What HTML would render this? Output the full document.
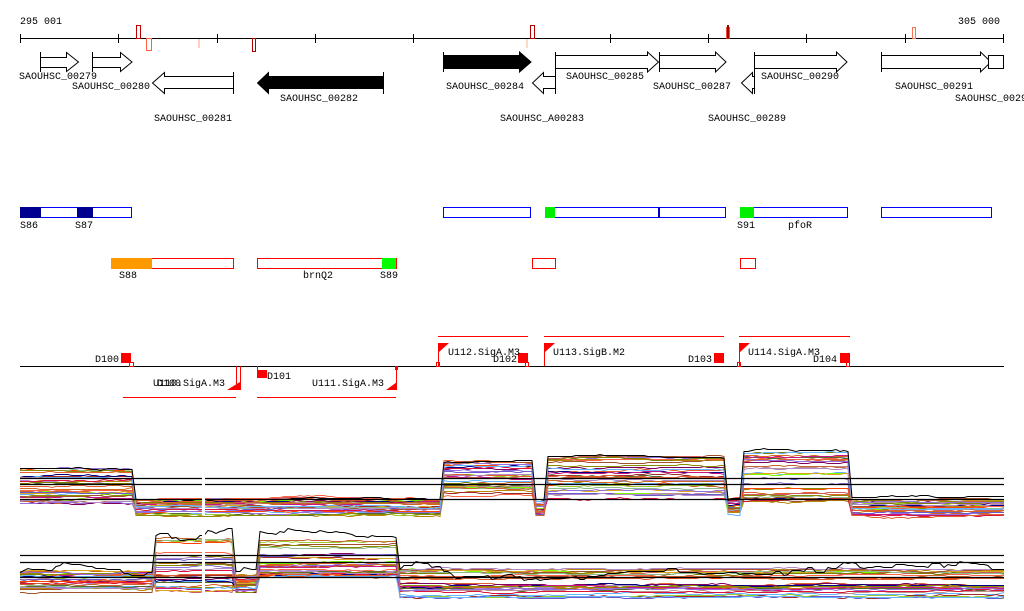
<!DOCTYPE html>
<html><head><meta charset="utf-8"><style>
html,body{margin:0;padding:0;background:#fff;width:1024px;height:611px;overflow:hidden}
svg{display:block}
text{font-family:"Liberation Mono","DejaVu Sans Mono",monospace;font-size:10px;fill:#000}
</style></head><body>
<svg id="s" width="1024" height="611" xmlns="http://www.w3.org/2000/svg">
<text x="20" y="24">295 001</text>
<text x="958" y="24">305 000</text>
<line x1="20" y1="38.5" x2="1004" y2="38.5" stroke="#000"/>
<g stroke="#000">
<line x1="20.5" y1="34" x2="20.5" y2="43"/><line x1="118.5" y1="34" x2="118.5" y2="43"/><line x1="217.5" y1="34" x2="217.5" y2="43"/><line x1="315.5" y1="34" x2="315.5" y2="43"/><line x1="413.5" y1="34" x2="413.5" y2="43"/><line x1="610.5" y1="34" x2="610.5" y2="43"/><line x1="708.5" y1="34" x2="708.5" y2="43"/><line x1="806.5" y1="34" x2="806.5" y2="43"/><line x1="905.5" y1="34" x2="905.5" y2="43"/><line x1="1003.5" y1="34" x2="1003.5" y2="43"/>
</g>
<rect x="136.5" y="25.5" width="4" height="13" fill="none" stroke="#c00000"/>
<rect x="146.5" y="38.5" width="5" height="12" fill="#fff" stroke="#ff6040" stroke-width="1"/>
<rect x="198" y="39" width="2" height="9" fill="#fcd0c0"/>
<rect x="252.5" y="38.5" width="3" height="13" fill="none" stroke="#b00000"/>
<rect x="530.5" y="25.5" width="4" height="13" fill="none" stroke="#b00000"/>
<rect x="526" y="39" width="2" height="9" fill="#fcd8c8"/>
<rect x="726" y="27" width="4" height="12" fill="#f05030"/>
<rect x="727" y="25" width="2" height="14" fill="#a00000"/>
<rect x="912.5" y="27.5" width="3" height="11" fill="none" stroke="#ff7050"/>
<g stroke="#000" stroke-width="1" fill="#fff">
<path d="M40.5 57.5H66.5V52.5L78.5 62L66.5 71.5V67.5H40.5Z"/><line x1="40.5" y1="52" x2="40.5" y2="72"/>
<path d="M92.5 57.5H120.5V52.5L132 62L120.5 71.5V67.5H92.5Z"/><line x1="92.5" y1="52" x2="92.5" y2="72"/>
<path d="M233.5 76.5H164.5V72.5L152.5 83L164.5 93.5V88.5H233.5Z"/><line x1="233.5" y1="72" x2="233.5" y2="94"/>
<path d="M383.5 76.5H268.5V72.5L257.5 83L268.5 93.5V88.5H383.5Z" fill="#000"/><line x1="383.5" y1="72" x2="383.5" y2="94"/>
<path d="M443.5 55.5H519.5V52L531 62L519.5 72V68.5H443.5Z" fill="#000"/><line x1="443.5" y1="52" x2="443.5" y2="72"/>
<path d="M555.5 76.5H543.5V72.5L532.5 83L543.5 93.5V88.5H555.5Z"/>
<path d="M555.5 55.5H647.5V52L658.5 62L647.5 72V68.5H555.5Z"/><line x1="555.5" y1="52" x2="555.5" y2="94"/>
<path d="M659.5 55.5H715.5V52L726 62L715.5 72V68.5H659.5Z"/><line x1="659.5" y1="52" x2="659.5" y2="72"/>
<path d="M754.5 76.5H752.5V72.5L741.5 83L752.5 93.5V88.5H754.5Z"/>
<path d="M754.5 55.5H836.5V52L847 62L836.5 72V68.5H754.5Z"/><line x1="754.5" y1="52" x2="754.5" y2="94"/>
<path d="M881.5 55.5H980.5V52L991 62L980.5 72V68.5H881.5Z"/><line x1="881.5" y1="52" x2="881.5" y2="72"/>
<rect x="988.5" y="55.5" width="15" height="13"/>
</g>
<text x="19" y="79">SAOUHSC_00279</text>
<text x="72" y="89">SAOUHSC_00280</text>
<text x="154" y="121">SAOUHSC_00281</text>
<text x="280" y="101">SAOUHSC_00282</text>
<text x="446" y="89">SAOUHSC_00284</text>
<text x="566" y="79">SAOUHSC_00285</text>
<text x="500" y="121">SAOUHSC_A00283</text>
<text x="653" y="89">SAOUHSC_00287</text>
<text x="708" y="121">SAOUHSC_00289</text>
<text x="761" y="79">SAOUHSC_00290</text>
<text x="895" y="89">SAOUHSC_00291</text>
<text x="955" y="101">SAOUHSC_00292</text>
<g stroke="#0000ff" fill="#fff">
<rect x="20.5" y="207.5" width="111" height="10"/>
<rect x="443.5" y="207.5" width="87" height="10"/>
<rect x="545.5" y="207.5" width="180" height="10"/>
<rect x="740.5" y="207.5" width="107" height="10"/>
<rect x="881.5" y="207.5" width="110" height="10"/>
</g>
<rect x="20" y="207" width="21" height="11" fill="#000090"/>
<rect x="77" y="207" width="16" height="11" fill="#000090"/>
<rect x="545" y="207" width="10" height="11" fill="#00ee00"/>
<rect x="658" y="207" width="2" height="11" fill="#0000c0"/>
<rect x="740" y="207" width="14" height="11" fill="#00ee00"/>
<text x="20" y="228">S86</text><text x="75" y="228">S87</text><text x="737" y="228">S91</text><text x="788" y="228">pfoR</text>
<g stroke="#ff0000" fill="#fff">
<rect x="111.5" y="258.5" width="122" height="10"/>
<rect x="257.5" y="258.5" width="139" height="10"/>
<rect x="532.5" y="258.5" width="23" height="10"/>
<rect x="740.5" y="258.5" width="15" height="10"/>
</g>
<rect x="111" y="258" width="41" height="11" fill="#ff9900"/>
<rect x="382" y="258" width="14" height="11" fill="#00ff00"/>
<text x="119" y="278">S88</text><text x="303" y="278">brnQ2</text><text x="380" y="278">S89</text>
<line x1="20" y1="366.5" x2="1004" y2="366.5" stroke="#000"/>
<g stroke="#ff0000" fill="none">
<line x1="438" y1="336.5" x2="528" y2="336.5"/><line x1="544" y1="336.5" x2="724" y2="336.5"/><line x1="739" y1="336.5" x2="850" y2="336.5"/>
<line x1="123" y1="397.5" x2="236" y2="397.5"/><line x1="257" y1="397.5" x2="396" y2="397.5"/>
<line x1="438.5" y1="343" x2="438.5" y2="366"/><line x1="544.5" y1="343" x2="544.5" y2="366"/><line x1="739.5" y1="343" x2="739.5" y2="366"/>
<line x1="236.5" y1="366" x2="236.5" y2="390"/><line x1="240.5" y1="366" x2="240.5" y2="390"/><line x1="396.5" y1="366" x2="396.5" y2="390"/>
<line x1="257.5" y1="366" x2="257.5" y2="377"/>
<rect x="129.5" y="362.5" width="4" height="4"/><rect x="525.5" y="362.5" width="3" height="4"/><rect x="436.5" y="362.5" width="3" height="4"/><rect x="737.5" y="362.5" width="3" height="4"/><rect x="846.5" y="362.5" width="3" height="4"/><rect x="395.5" y="366.5" width="2" height="3"/>
</g>
<g fill="#ff0000">
<path d="M438 343H449L438 353Z"/><path d="M544 343H555L544 353Z"/><path d="M739 343H750L739 353Z"/>
<path d="M240 390H227L240 382Z"/><path d="M397 390H386L397 382Z"/>
<rect x="121" y="353" width="10" height="10"/><rect x="518" y="353" width="10" height="10"/><rect x="714" y="353" width="10" height="10"/><rect x="840" y="353" width="10" height="10"/>
<rect x="257" y="370" width="10" height="8"/>
</g>
<text x="95" y="362">D100</text>
<text x="448" y="355">U112.SigA.M3</text><text x="493" y="362">D102</text>
<text x="553" y="355">U113.SigB.M2</text><text x="688" y="362">D103</text>
<text x="748" y="355">U114.SigA.M3</text><text x="813" y="362">D104</text>
<text x="153" y="386">U110.SigA.M3</text><text x="157" y="386">D100</text>
<text x="267" y="379">D101</text>
<text x="312" y="386">U111.SigA.M3</text>
<g id="plots"></g>
</svg>
<script>
(function(){
var seed=12345;function r(){seed=(seed*1103515245+12345)&0x7fffffff;return seed/0x7fffffff;}
var cols=["#c86432","#a0522d","#8b8b00","#e06030","#9370db","#b088c8","#66b3ff","#7cfc00","#cd5c5c","#800060","#b8860b","#ff6347","#556b2f","#d2691e","#a52a2a","#9acd32","#000080","#c71585","#daa520","#808000","#bc8f8f","#6a5acd","#ff4500","#8fbc8f","#dc143c"];
var g=document.getElementById('plots');var ns="http://www.w3.org/2000/svg";
function panel(segs,blacks,N,gap,bnoise){
 for(var i=0;i<=N;i++){
  var pts=[],rr=[];for(var k=0;k<segs.length;k++){var v=r();rr.push(segs[k][5]?Math.pow(v,segs[k][5]):v);}
  var noise=0,isB=(i==N),amp=isB?bnoise:0.5;
  for(var x=20;x<=1004;x+=4){
   var k=0;while(k<segs.length-1&&x>segs[k][1])k++;
   var s=segs[k];var rel=isB?(s[4]||0):rr[k];
   if(r()<0.35)noise+=(r()-0.5)*amp*4;noise*=0.93;
   var y=s[2]+rel*(s[3]-s[2])+noise;
   y=Math.round(y)+0.5;
   pts.push(x+","+y);
  }
  var p=document.createElementNS(ns,'polyline');p.setAttribute('points',pts.join(' '));
  p.setAttribute('fill','none');p.setAttribute('stroke',isB?'#000':cols[i%cols.length]);p.setAttribute('stroke-width',1);
  g.appendChild(p);
 }
 blacks.forEach(function(y){var l=document.createElementNS(ns,'line');l.setAttribute('x1',20);l.setAttribute('x2',1004);l.setAttribute('y1',y);l.setAttribute('y2',y);l.setAttribute('stroke','#000');l.setAttribute('stroke-width',1.3);g.appendChild(l);});
 var w=document.createElementNS(ns,'rect');w.setAttribute('x',202);w.setAttribute('y',gap[0]);w.setAttribute('width',3);w.setAttribute('height',gap[1]);w.setAttribute('fill','#fff');g.appendChild(w);
}
panel([[20,132,468,503,0],[132,440,498,515,0],[440,532,461,497,0],[532,546,500,514,0],[546,726,456,498,0],[726,740,498,514,0],[740,850,451,500,0],[850,1004,497,516,0]],[478.5,484.5,499.5],32,[455,60],0.6);
panel([[20,152,570,592,0.1],[152,235,535,592,0,0.6],[235,257,574,594,0.2],[257,396,539,578,0,0.7],[396,1004,569,598,0.05,1.3]],[555.5,562.5,577.5],32,[530,70],2.5);
})();
</script>
</body></html>
